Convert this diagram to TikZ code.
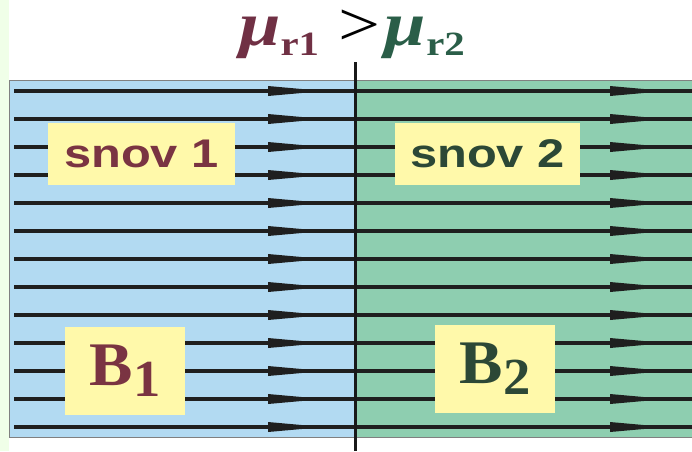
\documentclass[tikz,border=0pt]{standalone}
\usepackage{fontspec}
\newfontfamily\snovfont{Liberation Sans}
\newfontfamily\bfont{Liberation Serif}

\definecolor{fieldblue}{RGB}{178,218,242}
\definecolor{fieldgreen}{RGB}{142,206,176}
\definecolor{edgegreen}{RGB}{240,255,232}
\definecolor{boxyellow}{RGB}{255,249,170}
\definecolor{snovred}{RGB}{122,52,66}
\definecolor{snovgreen}{RGB}{44,72,54}
\definecolor{mured}{RGB}{112,48,68}
\definecolor{mugreen}{RGB}{42,94,72}

\newcommand{\murel}[2]{{\color{#1}{\bfseries\itshape μ}\raisebox{-10pt}{\fontsize{34}{34}\selectfont\bfseries r#2}}}

\begin{document}
\begin{tikzpicture}[x=1pt,y=-1pt,
  fld/.style={line width=3.5pt,color=black!88},
  tip/.style={fill=black!88},
  lbl/.style={fill=boxyellow,inner sep=0pt}]

\useasboundingbox (0,0) rectangle (692,451);
\fill[white] (0,0) rectangle (692,451);
\fill[edgegreen] (0,0) rectangle (9,451);
\fill[fieldblue] (9,80) rectangle (355,437);
\fill[fieldgreen] (355,80) rectangle (692,437);
\draw[gray,line width=1pt] (692,80) -- (9,80) -- (9,437) -- (692,437);

% field lines
\foreach \k in {0,...,12}{
  \pgfmathsetmacro\yy{91+28*\k}
  \draw[fld] (14,\yy) -- (692,\yy);
  \fill[tip] (268,\yy-5) -- (324,\yy) -- (268,\yy+5) -- cycle;
  \fill[tip] (610,\yy-5) -- (666,\yy) -- (610,\yy+5) -- cycle;
}

% boundary
\coordinate (top) at (355,62);
\coordinate (bot) at (355,451);
\draw[line width=3pt,black!90] (top) -- (bot);

\node[lbl,minimum width=187pt,minimum height=62pt,text=snovred] (snova) at (141.5,154)
  {\snovfont\bfseries\fontsize{40}{40}\selectfont\scalebox{1.22}[1]{snov 1}};
\node[lbl,minimum width=185pt,minimum height=62pt,text=snovgreen] (snovb) at (487.5,154)
  {\snovfont\bfseries\fontsize{40}{40}\selectfont\scalebox{1.22}[1]{snov 2}};

\node[lbl,minimum width=120pt,minimum height=88pt,text=snovred] (bfa) at (125,371)
  {\bfont\bfseries\scalebox{1.05}[1]{\fontsize{62}{62}\selectfont B\raisebox{-11pt}{\fontsize{52}{52}\selectfont 1}}};
\node[lbl,minimum width=120pt,minimum height=88pt,text=snovgreen] (bfb) at (495,369)
  {\bfont\bfseries\scalebox{1.05}[1]{\fontsize{62}{62}\selectfont B\raisebox{-11pt}{\fontsize{52}{52}\selectfont 2}}};

\node[anchor=base,inner sep=0pt] (mu) at (352,45)
  {\bfont\fontsize{62}{62}\selectfont\scalebox{1.2}[1]{\murel{mured}{1}\hspace{16pt}>\hspace{4pt}\murel{mugreen}{2}}};

\end{tikzpicture}
\end{document}
